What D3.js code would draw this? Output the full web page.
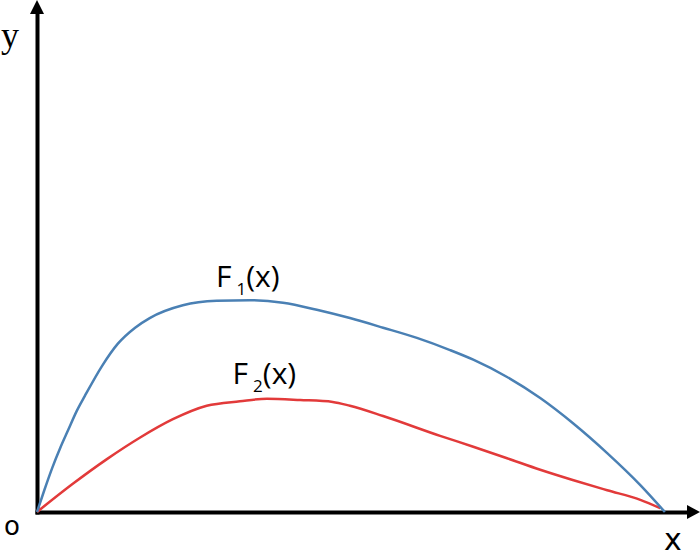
<!DOCTYPE html>
<html>
<head>
<meta charset="utf-8">
<script src="https://cdn.jsdelivr.net/npm/d3@7"></script>
<style>
  body { margin: 0; background: #fff; }
  svg  { display: block; }
</style>
</head>
<body>
<script>
// curve samples (x from 0 to 10, y from 0 to 8)
const f1X = [0, 0.11, 0.23, 0.35, 0.47, 0.60, 0.72, 0.98, 1.22, 1.48, 1.70, 2.20, 2.71, 3.21, 3.71, 4.22, 4.72, 5.22, 5.73, 6.23, 6.58, 7.09, 7.59, 8.08, 8.60, 9.10, 9.47];
const f1Y = [0, 0.34, 0.69, 1.00, 1.28, 1.58, 1.81, 2.28, 2.63, 2.88, 3.03, 3.23, 3.30, 3.31, 3.27, 3.16, 3.03, 2.88, 2.72, 2.53, 2.38, 2.11, 1.78, 1.39, 0.92, 0.42, 0];

const f2X = [0, 0.54, 1.06, 1.55, 2.05, 2.56, 3.06, 3.47, 3.97, 4.46, 4.72, 5.22, 6.08, 6.58, 7.09, 7.59, 8.08, 8.60, 9.10, 9.40];
const f2Y = [0, 0.44, 0.83, 1.16, 1.45, 1.66, 1.73, 1.77, 1.75, 1.72, 1.66, 1.50, 1.19, 1.02, 0.84, 0.66, 0.50, 0.34, 0.19, 0.06];

// series labels
const labels = [
  { name: 'F', sub: '1', x: 2.7, y: 3.52 },
  { name: 'F', sub: '2', x: 2.95, y: 2.0 }
];

const width  = 700;
const height = 560;

const origin = { x: 37, y: 512 };

// scales
const x = d3.scaleLinear().domain([0, 10]).range([origin.x, 700]);
const y = d3.scaleLinear().domain([0, 8]).range([origin.y, 0]);

const svg = d3.select('body')
  .append('svg')
    .attr('width',  width)
    .attr('height', height);

// axes, no ticks, thick black with arrow heads
svg.append('g')
  .attr('transform', `translate(0,${origin.y})`)
  .call(d3.axisBottom(x.copy().range([origin.x - 2, 690])).tickValues([]).tickSizeOuter(0));

svg.append('g')
  .attr('transform', `translate(${origin.x},0)`)
  .call(d3.axisLeft(y.copy().range([origin.y + 2, 12])).tickValues([]).tickSizeOuter(0));

svg.selectAll('.domain')
  .attr('stroke', '#000')
  .attr('stroke-width', 4);

// arrow heads
svg.append('path')
  .attr('d', `M${x(10)},${origin.y} L${x(10) - 13},${origin.y - 7} L${x(10) - 13},${origin.y + 7} Z`)
  .attr('fill', '#000');

svg.append('path')
  .attr('d', `M${origin.x},${y(8)} L${origin.x - 7},${y(8) + 14} L${origin.x + 7},${y(8) + 14} Z`)
  .attr('fill', '#000');

// curves
const line = d3.line()
  .x((d) => x(d[0]))
  .y((d) => y(d[1]))
  .curve(d3.curveMonotoneX);

svg.append('path')
  .datum(d3.zip(f2X, f2Y))
  .attr('d', line)
  .attr('fill', 'none')
  .attr('stroke', '#e23a3a')
  .attr('stroke-width', 2.5);

svg.append('path')
  .datum(d3.zip(f1X, f1Y))
  .attr('d', line)
  .attr('fill', 'none')
  .attr('stroke', '#4a80b4')
  .attr('stroke-width', 2.5);

// curve labels
const text = svg.selectAll('.label')
  .data(labels)
  .join('text')
    .attr('class', 'label')
    .attr('x', (d) => x(d.x))
    .attr('y', (d) => y(d.y))
    .attr('font-family', '"Open Sans", sans-serif')
    .attr('font-size', 30)
    .attr('fill', '#000');

text.append('tspan').text((d) => d.name);
text.append('tspan')
  .attr('dx', 5)
  .attr('dy', 8)
  .attr('font-size', 17)
  .text((d) => d.sub);
text.append('tspan')
  .attr('dy', -8)
  .text('(x)');

// axis letters
svg.append('text')
  .attr('x', 1)
  .attr('y', 47)
  .attr('font-family', '"Liberation Serif", serif')
  .attr('font-size', 36)
  .text('y');

svg.append('text')
  .attr('x', 4)
  .attr('y', 535)
  .attr('font-family', '"DejaVu Sans", sans-serif')
  .attr('font-size', 26)
  .text('o');

svg.append('text')
  .attr('x', 664)
  .attr('y', 550)
  .attr('font-family', '"DejaVu Sans", sans-serif')
  .attr('font-size', 30)
  .text('x');
</script>
</body>
</html>
